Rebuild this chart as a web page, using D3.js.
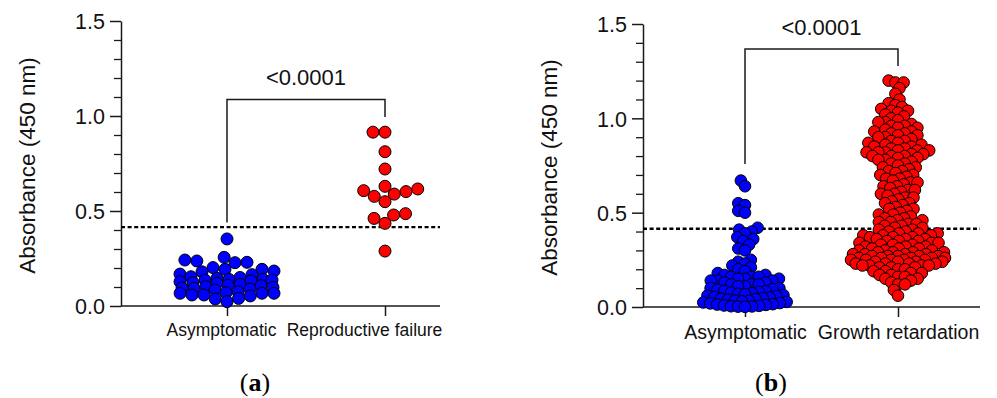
<!DOCTYPE html>
<html lang="en">
<head>
<meta charset="utf-8">
<title>Absorbance (450 nm)</title>
<script src="https://d3js.org/d3.v7.min.js"></script>
<style>
  body { margin: 0; background: #fff; }
  svg text { font-family: "Liberation Sans", Arial, sans-serif; }
</style>
</head>
<body>
<script>
// ---- data ----
var catsA = ["Asymptomatic", "Reproductive failure"];
var asymA = [0.353, 0.256, 0.242, 0.237, 0.230, 0.228, 0.202, 0.193, 0.193, 0.184, 0.180,
             0.168, 0.165, 0.154, 0.150, 0.146, 0.140, 0.140, 0.137, 0.137, 0.132, 0.128,
             0.123, 0.120, 0.114, 0.110, 0.107, 0.102, 0.098, 0.095, 0.093, 0.089, 0.084,
             0.075, 0.070, 0.067, 0.067, 0.067, 0.058, 0.058, 0.053, 0.040, 0.037, 0.023];
var reproA = [0.915, 0.915, 0.812, 0.721, 0.630, 0.616, 0.607, 0.602, 0.589, 0.577,
              0.549, 0.486, 0.479, 0.461, 0.435, 0.289];

var catsB = ["Asymptomatic", "Growth retardation"];
var asymB = [0.67, 0.64, 0.55, 0.54, 0.51, 0.50, 0.42, 0.41, 0.40, 0.39, 0.37, 0.36, 0.35,
             0.33, 0.31, 0.30, 0.25, 0.24, 0.23, 0.22, 0.21, 0.20,
             0.19, 0.18, 0.17, 0.17, 0.16, 0.16, 0.16, 0.15, 0.15, 0.15, 0.14, 0.14, 0.14,
             0.13, 0.13, 0.12, 0.12, 0.12, 0.11, 0.11, 0.10, 0.10,
             0.094, 0.091, 0.086, 0.083, 0.081, 0.077, 0.073, 0.070, 0.068, 0.063, 0.061,
             0.057, 0.053, 0.050, 0.048, 0.044, 0.041, 0.038, 0.034, 0.032, 0.030, 0.027,
             0.024, 0.021, 0.019, 0.015, 0.013, 0.011, 0.008, 0.006, 0.004, 0.003, 0.002, 0.001];
var growthB = [1.20, 1.19, 1.19, 1.16, 1.13,
               1.10, 1.08, 1.07, 1.06, 1.05, 1.04, 1.04, 1.03, 1.02, 1.01, 1.00,
               0.99, 0.98, 0.98, 0.97, 0.96, 0.96, 0.95, 0.95, 0.94, 0.93, 0.93, 0.92, 0.92,
               0.91, 0.91, 0.90, 0.90,
               0.89, 0.88, 0.88, 0.87, 0.87, 0.86, 0.86, 0.85, 0.85, 0.84, 0.84, 0.83, 0.83,
               0.83, 0.82, 0.82, 0.82, 0.81, 0.81, 0.80, 0.80, 0.80,
               0.79, 0.79, 0.78, 0.78, 0.77, 0.76, 0.76, 0.75, 0.74, 0.74, 0.73, 0.72, 0.72,
               0.71, 0.70, 0.70,
               0.69, 0.68, 0.68, 0.67, 0.66, 0.66, 0.65, 0.64, 0.64, 0.63, 0.62, 0.62, 0.61,
               0.60, 0.60,
               0.59, 0.58, 0.58, 0.57, 0.56, 0.55, 0.55, 0.54, 0.53, 0.52, 0.52, 0.51, 0.50,
               0.49, 0.49, 0.48, 0.47, 0.47, 0.46, 0.46, 0.45, 0.45, 0.44, 0.44, 0.43, 0.43,
               0.42, 0.42, 0.41, 0.41, 0.40, 0.40,
               0.39, 0.39, 0.39, 0.38, 0.38, 0.38, 0.37, 0.37, 0.37, 0.36, 0.36, 0.36, 0.35,
               0.35, 0.35, 0.34, 0.34, 0.34, 0.33, 0.33, 0.33, 0.32, 0.32, 0.32, 0.31, 0.31,
               0.31, 0.30, 0.30, 0.30,
               0.29, 0.29, 0.29, 0.29, 0.28, 0.28, 0.28, 0.28, 0.27, 0.27, 0.27, 0.27, 0.27,
               0.26, 0.26, 0.26, 0.26, 0.26, 0.25, 0.25, 0.25, 0.25, 0.25, 0.24, 0.24, 0.24,
               0.24, 0.23, 0.23, 0.23, 0.23, 0.22, 0.22, 0.22, 0.22, 0.21, 0.21, 0.21, 0.20, 0.20,
               0.19, 0.19, 0.18, 0.18, 0.17, 0.17, 0.16, 0.16, 0.15, 0.15, 0.14, 0.13, 0.12,
               0.12, 0.09, 0.06];

var yMajor = [0, 0.5, 1.0, 1.5];
var yMinor = [0.1, 0.2, 0.3, 0.4, 0.6, 0.7, 0.8, 0.9, 1.1, 1.2, 1.3, 1.4];
var cutoff = 0.415;
var pLabel = "<0.0001";

// ---- layout ----
var w = 997, h = 398;
var svg = d3.select("body").append("svg").attr("width", w).attr("height", h);

var panels = [
  { left: 121, right: 440, top: 21, bottom: 306, cats: catsA, catX: [227, 385],
    groups: [asymA, reproA], r: 6, dc: 12, maxHalf: 47, catFont: 17.5, catDx: [-6, -21],
    bracket: [0.44, 1.087, 0.995], titleX: 35, tag: "(a)", tagX: 255 },
  { left: 643, right: 980, top: 24, bottom: 307, cats: catsB, catX: [745, 898],
    groups: [asymB, growthB], r: 5.8, dc: 7, maxHalf: 47, catFont: 19.5, catDx: [0, 0],
    bracket: [0.758, 1.367, 1.277], titleX: 557, tag: "(b)", tagX: 771 }
];
var colors = ["#0000ff", "#ff0000"];

// simple beeswarm: place points (lowest first) as near the centre as possible
function swarm(values, y, dc, maxHalf) {
  var order = values.map(function(v, i) { return i; })
                    .sort(function(a, b) { return values[a] - values[b]; });
  var placed = [], xs = new Array(values.length);
  order.forEach(function(i) {
    var py = y(values[i]);
    var ivs = [];
    placed.forEach(function(p) {
      var dy = Math.abs(p.y - py);
      if (dy < dc) {
        var ww = Math.sqrt(dc * dc - dy * dy);
        ivs.push([p.x - ww, p.x + ww]);
      }
    });
    var cands = [0];
    ivs.forEach(function(iv) { cands.push(iv[0], iv[1]); });
    cands.sort(function(a, b) { return Math.abs(a) - Math.abs(b); });
    var best = null;
    for (var k = 0; k < cands.length; k++) {
      var c = cands[k];
      if (Math.abs(c) > maxHalf) break;
      var free = ivs.every(function(iv) { return c <= iv[0] + 1e-6 || c >= iv[1] - 1e-6; });
      if (free) { best = c; break; }
    }
    if (best === null) {
      // no room left: put it where it overlaps least
      var bestScore = Infinity;
      for (var s = 0; s <= maxHalf; s++) {
        [s, -s].forEach(function(c) {
          var sc = 0;
          placed.forEach(function(p) {
            var d = Math.hypot(p.x - c, p.y - py);
            if (d < dc) sc += dc - d;
          });
          if (sc < bestScore - 1e-9) { bestScore = sc; best = c; }
        });
      }
    }
    xs[i] = best;
    placed.push({ x: best, y: py });
  });
  return xs;
}

panels.forEach(function(p) {
  var g = svg.append("g");
  var y = d3.scaleLinear().domain([0, 1.5]).range([p.bottom, p.top]);
  var x = d3.scalePoint().domain(p.cats).range(p.catX);

  // minor ticks
  g.append("g")
    .attr("transform", "translate(" + p.left + ",0)")
    .call(d3.axisLeft(y).tickValues(yMinor).tickSize(7).tickFormat(""))
    .call(function(a) { a.select(".domain").remove(); })
    .selectAll("line").attr("stroke", "#1a1a1a").attr("stroke-width", 1.3);

  // major ticks + domain
  var ya = g.append("g")
    .attr("transform", "translate(" + p.left + ",0)")
    .call(d3.axisLeft(y).tickValues(yMajor).tickSize(11).tickSizeOuter(0)
           .tickPadding(5).tickFormat(d3.format(".1f")));
  ya.select(".domain").attr("stroke", "#1a1a1a").attr("stroke-width", 1.5);
  ya.selectAll("line").attr("stroke", "#1a1a1a").attr("stroke-width", 1.5);
  ya.selectAll("text").attr("font-size", 21.5).attr("fill", "#111")
    .attr("font-family", "Liberation Sans, Arial, sans-serif").attr("dy", "0.36em");

  // x axis
  g.append("line")
    .attr("x1", p.left).attr("x2", p.right)
    .attr("y1", p.bottom).attr("y2", p.bottom)
    .attr("stroke", "#1a1a1a").attr("stroke-width", 1.5);
  var xa = g.append("g")
    .attr("transform", "translate(0," + p.bottom + ")")
    .call(d3.axisBottom(x).tickSize(10).tickPadding(8));
  xa.select(".domain").remove();
  xa.selectAll("line").attr("stroke", "#1a1a1a").attr("stroke-width", 1.5);
  xa.selectAll("text").attr("font-size", p.catFont).attr("fill", "#111")
    .attr("font-family", "Liberation Sans, Arial, sans-serif")
    .attr("dx", function(d, i) { return p.catDx[i]; });

  // cut-off line
  g.append("line")
    .attr("x1", p.left).attr("x2", p.right)
    .attr("y1", y(cutoff)).attr("y2", y(cutoff))
    .attr("stroke", "#000").attr("stroke-width", 2.4)
    .attr("stroke-dasharray", "4,2.6");

  // points
  p.groups.forEach(function(vals, gi) {
    var xs = swarm(vals, y, p.dc, p.maxHalf);
    g.append("g").selectAll("circle")
      .data(vals)
      .enter()
      .append("circle")
      .attr("cx", function(d, i) { return x(p.cats[gi]) + xs[i]; })
      .attr("cy", function(d) { return y(d); })
      .attr("r", p.r)
      .attr("fill", colors[gi])
      .attr("stroke", "#000")
      .attr("stroke-width", 1);
  });

  // significance bracket
  var bx0 = x(p.cats[0]), bx1 = x(p.cats[1]);
  g.append("path")
    .attr("d", "M" + bx0 + "," + y(p.bracket[0]) + "V" + y(p.bracket[1]) +
               "H" + bx1 + "V" + y(p.bracket[2]))
    .attr("fill", "none").attr("stroke", "#1a1a1a").attr("stroke-width", 1.5);
  g.append("text")
    .attr("x", (bx0 + bx1) / 2)
    .attr("y", y(p.bracket[1]) - 14)
    .attr("text-anchor", "middle")
    .attr("font-size", 22)
    .attr("fill", "#111")
    .text(pLabel);

  // y title
  g.append("text")
    .attr("transform", "translate(" + p.titleX + "," + ((p.top + p.bottom) / 2 + 2) + ") rotate(-90)")
    .attr("text-anchor", "middle")
    .attr("font-size", 22.5)
    .attr("fill", "#111")
    .text("Absorbance (450 nm)");

  // panel tag
  var tag = g.append("text")
    .attr("x", p.tagX).attr("y", 391)
    .attr("text-anchor", "middle")
    .attr("font-size", 26)
    .attr("fill", "#000")
    .style("font-family", "'Liberation Serif', 'DejaVu Serif', serif");
  tag.append("tspan").text("(");
  tag.append("tspan").attr("font-weight", "bold").text(p.tag.slice(1, 2));
  tag.append("tspan").text(")");
});
</script>
</body>
</html>
